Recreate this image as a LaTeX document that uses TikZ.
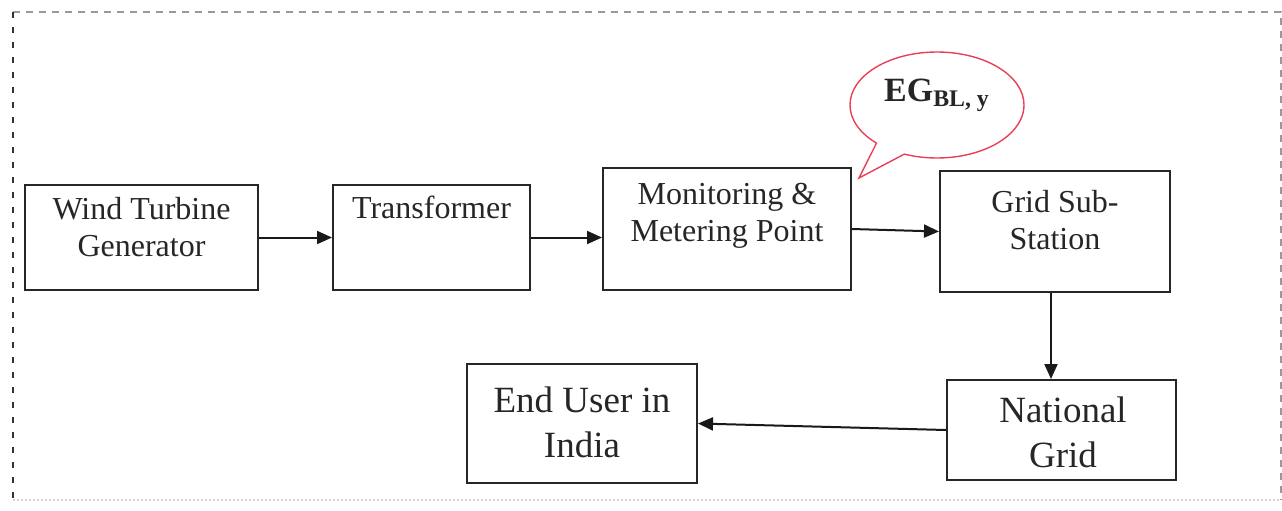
\documentclass[tikz,border=0pt]{standalone}
\usepackage{fontspec}
\setmainfont{Liberation Serif}
\usetikzlibrary{shapes.callouts,arrows.meta}
\definecolor{bubblered}{RGB}{232,64,86}
\tikzstyle{stage}=[draw=black!85,line width=1pt,rectangle,inner sep=0pt]
\tikzstyle{stagetext}=[inner sep=0pt,align=center,anchor=base,text=black!85,font=\fontsize{16}{18.5}\selectfont]
\tikzstyle{bigtext}=[stagetext,font=\fontsize{18.5}{22.5}\selectfont]
\tikzstyle{flow}=[draw=black!90,line width=1pt,-{Triangle[length=7.5pt,width=6.5pt]}]

\begin{document}
\begin{tikzpicture}[x=0.5pt,y=-0.5pt]
	\useasboundingbox (0,0) rectangle (1282,510);
	% frame
	\coordinate (nw) at (13,12);
	\coordinate (ne) at (1281,12);
	\coordinate (se) at (1281,500);
	\coordinate (sw) at (13,500);
	\draw[gray!80,line width=1pt,dash pattern=on 3.5pt off 3pt] (nw) -- (ne) -- (se);
	\draw[black!80,line width=1pt,dash pattern=on 3pt off 4.5pt] (nw) -- (sw);
	\draw[gray!35,line width=0.8pt,dash pattern=on 1pt off 1pt] (sw) -- (se);
	% boxes
	\node[stage,minimum width=116.5pt,minimum height=52.5pt] (wtg) at (141.5,237.5) {};
	\node[stagetext] (wtgtext) at (141.5,256) {Wind Turbine\\Generator};
	\node[stage,minimum width=98.5pt,minimum height=52.5pt] (trf) at (431.5,237.5) {};
	\node[stagetext] (trftext) at (431.5,218) {Transformer};
	\node[stage,minimum width=124pt,minimum height=61pt] (mmp) at (727,229) {};
	\node[stagetext] (mmptext) at (727,241) {Monitoring \&\\Metering Point};
	\node[stage,minimum width=115pt,minimum height=60.5pt] (gss) at (1055,231.5) {};
	\node[stagetext] (gsstext) at (1055,249) {Grid Sub-\\Station};
	\node[stage,minimum width=114.5pt,minimum height=50pt] (ngr) at (1061.5,430) {};
	\node[bigtext] (ngrtext) at (1063,467) {National\\Grid};
	\node[stage,minimum width=115pt,minimum height=59.5pt] (eui) at (582,423.5) {};
	\node[bigtext] (euitext) at (582,457) {End User in\\India};
	% callout
	\node[ellipse callout,draw=bubblered,line width=0.7pt,inner sep=0pt,
	  minimum width=87pt,minimum height=53pt,
	  callout absolute pointer={(859,178)},callout pointer arc=22] (eg) at (937,105) {};
	\node[inner sep=0pt,anchor=base,text=black!85,font=\bfseries\fontsize{17}{19}\selectfont] (egtext) at (937,101) {EG\textsubscript{BL, y}};
	% flow
	\draw[flow] (wtg.east) -- (trf.west);
	\draw[flow] (trf.east) -- (trf.east -| mmp.west);
	\draw[flow] (mmp.east) -- (gss.west);
	\draw[flow] ([xshift=-2pt]gss.south) -- ([xshift=-2pt]gss.south |- ngr.north);
	\draw[flow] (ngr.west) -- (eui.east);
\end{tikzpicture}
\end{document}
